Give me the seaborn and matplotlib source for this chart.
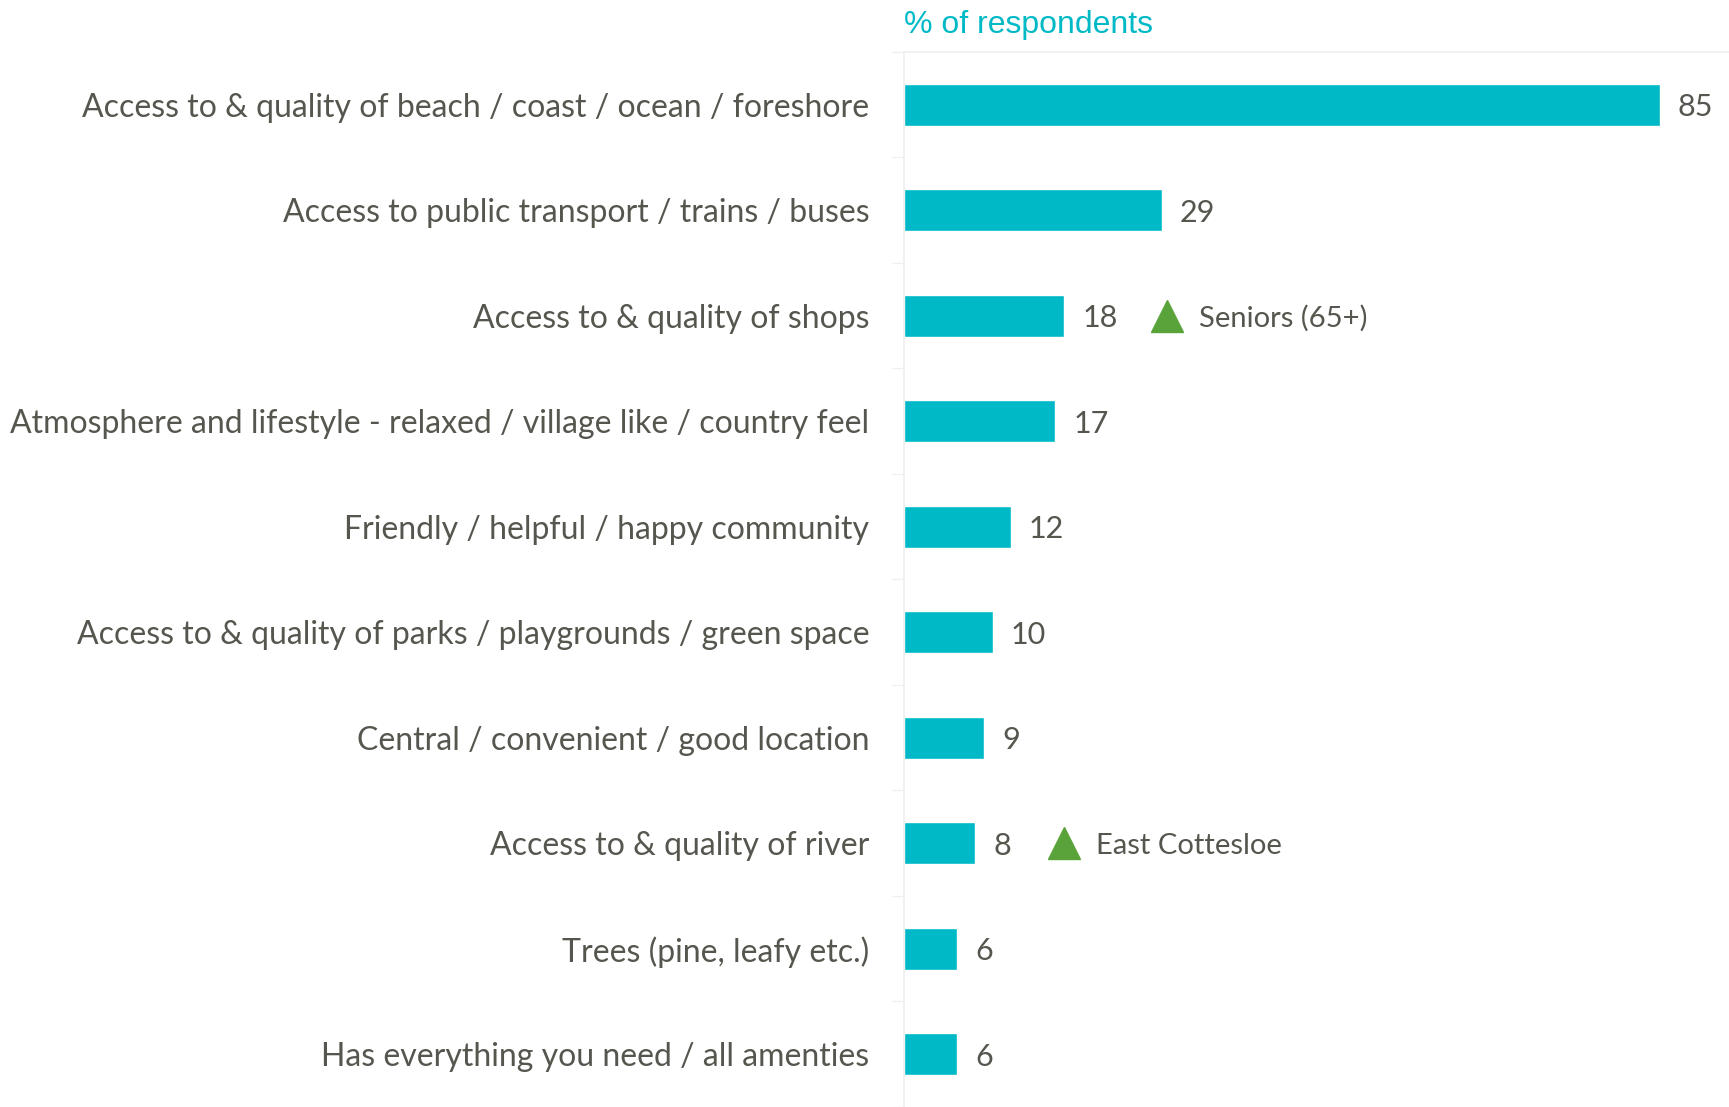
import matplotlib
matplotlib.use('Agg')
import matplotlib.pyplot as plt
import seaborn as sns
import pandas as pd

# chart data
categories = [
    'Access to & quality of beach / coast / ocean / foreshore',
    'Access to public transport / trains / buses',
    'Access to & quality of shops',
    'Atmosphere and lifestyle - relaxed / village like / country feel',
    'Friendly / helpful / happy community',
    'Access to & quality of parks / playgrounds / green space',
    'Central / convenient / good location',
    'Access to & quality of river',
    'Trees (pine, leafy etc.)',
    'Has everything you need / all amenties',
]
values = [85, 29, 18, 17, 12, 10, 9, 8, 6, 6]
# significantly higher among a sub-group
flag_rows = [2, 7]
flag_labels = ['Seniors (65+)', 'East Cottesloe']

BAR = '#00b9c6'
TEXT = '#55564e'
GREEN = '#5aa33a'
FAINT = '#f0f0f0'

sns.set_theme(style='white')
plt.rcParams['font.family'] = ['Lato', 'DejaVu Sans']

df = pd.DataFrame({'category': categories, 'value': values})

fig = plt.figure(figsize=(17.29, 11.07), dpi=100)
ax = fig.add_axes([904 / 1729, 0.0, 1 - 904 / 1729, 1 - 52 / 1107])

sns.barplot(data=df, x='value', y='category', color=BAR, width=0.4,
            saturation=1, orient='h', ax=ax)

ax.set_xlim(0, 92.8)
ax.set_ylim(len(categories) - 0.5, -0.5)
ax.set_xlabel('')
ax.set_ylabel('')
ax.set_xticks([])

ax.tick_params(axis='y', length=0, pad=25, labelsize=23, labelcolor=TEXT)
# faint minor ticks on category boundaries
ax.set_yticks([i + 0.5 for i in range(-1, len(categories))], minor=True)
ax.tick_params(axis='y', which='minor', length=9, width=1, color=FAINT, left=True)

for side in ['right', 'bottom']:
    ax.spines[side].set_visible(False)
ax.spines['left'].set_color(FAINT)
ax.spines['top'].set_color(FAINT)

# value labels
for i, v in enumerate(values):
    ax.annotate(str(v), xy=(v, i), xytext=(13, 0), textcoords='offset points',
                ha='left', va='center_baseline', fontsize=22, color=TEXT)

# sub-group flags
for row, lab in zip(flag_rows, flag_labels):
    v = values[row]
    off = 13 + 10 * len(str(v)) + 41
    ax.plot([v], [row], linestyle='none', marker='^', markersize=23, color=GREEN,
            transform=ax.transData + matplotlib.transforms.ScaledTranslation(off / 72, 0, fig.dpi_scale_trans),
            clip_on=False)
    ax.annotate(lab, xy=(v, row), xytext=(off + 23, 0), textcoords='offset points',
                ha='left', va='center_baseline', fontsize=21, color=TEXT)

fig.text(904 / 1729, 1 - 25 / 1107, '% of respondents', ha='left', va='center',
         fontsize=23, color=BAR, family=['Liberation Sans', 'DejaVu Sans'])

fig.savefig('out.png', dpi=100)
